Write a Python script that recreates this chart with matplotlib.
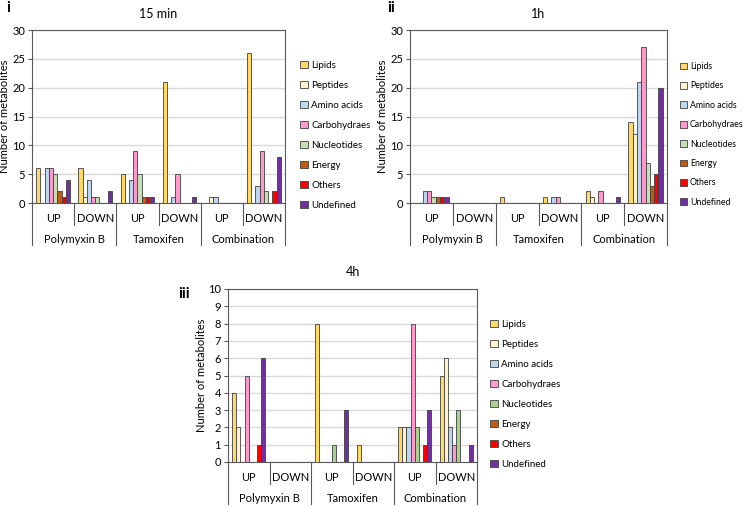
import matplotlib
matplotlib.use("Agg")
import matplotlib.pyplot as plt
from matplotlib.patches import Patch
import numpy as np

plt.rcParams['font.family'] = ['Lato', 'DejaVu Sans']

classes = ["Lipids", "Peptides", "Amino acids", "Carbohydraes", "Nucleotides",
           "Energy", "Others", "Undefined"]
colors = ["#FFD966", "#FFF2CC", "#BDD7EE", "#FF99CC", "#C5E0B4",
          "#C55A11", "#FF0000", "#7030A0"]
colors_4h = ["#FFD966", "#FFF2CC", "#BDD7EE", "#FF99CC", "#A9D18E",
             "#C55A11", "#FF0000", "#7030A0"]
treatments = ["Polymyxin B", "Tamoxifen", "Combination"]
directions = ["UP", "DOWN"]

# rows: PolyB UP, PolyB DOWN, Tam UP, Tam DOWN, Comb UP, Comb DOWN
# columns: classes order
vals_15min = [
    [6, 0, 6, 6, 5, 2, 1, 4],
    [6, 1, 4, 1, 1, 0, 0, 2],
    [5, 0, 4, 9, 5, 1, 1, 1],
    [21, 0, 1, 5, 0, 0, 0, 1],
    [0, 1, 1, 0, 0, 0, 0, 0],
    [26, 0, 3, 9, 2, 0, 2, 8],
]
vals_1h = [
    [0, 0, 2, 2, 1, 1, 1, 1],
    [0, 0, 0, 0, 0, 0, 0, 0],
    [1, 0, 0, 0, 0, 0, 0, 0],
    [1, 0, 1, 1, 0, 0, 0, 0],
    [2, 1, 0, 2, 0, 0, 0, 1],
    [14, 12, 21, 27, 7, 3, 5, 20],
]
vals_4h = [
    [4, 2, 0, 5, 0, 0, 1, 6],
    [0, 0, 0, 0, 0, 0, 0, 0],
    [8, 0, 0, 0, 1, 0, 0, 3],
    [1, 0, 0, 0, 0, 0, 0, 0],
    [2, 2, 2, 8, 2, 0, 1, 3],
    [5, 6, 2, 1, 3, 0, 0, 1],
]

W, H = 745, 507
fig = plt.figure(figsize=(W / 100, H / 100), dpi=100)


def px_axes(l, t, r, b):
    return fig.add_axes([l / W, (H - b) / H, (r - l) / W, (b - t) / H])


def draw_panel(ax, data, cols, title, ymax, ystep, label, label_xy, ylab_x,
               legend_xy, legend_fs, ls):
    data = np.array(data, dtype=float)
    n = len(classes)
    bw = 0.1
    x0 = np.arange(data.shape[0])
    for j in range(n):
        ax.bar(x0 - (n - 1) / 2 * bw + j * bw, data[:, j], width=bw,
               color=cols[j], edgecolor="#404040", linewidth=0.6,
               label=classes[j], zorder=3)
    ax.set_xlim(-0.5, data.shape[0] - 0.5)
    ax.set_ylim(0, ymax)
    ax.set_yticks(np.arange(0, ymax + 0.01, ystep))
    ax.yaxis.grid(True, color="#D9D9D9", linewidth=1.0, zorder=0)
    ax.set_axisbelow(True)
    ax.set_xticks([])
    for s in ax.spines.values():
        s.set_color("#595959")
        s.set_linewidth(0.8)
    ax.tick_params(axis="y", labelsize=8, length=3, color="#595959", pad=2)
    ax.set_title(title, fontsize=9, pad=9)
    ax.set_ylabel("Number of metabolites", fontsize=8)
    ax.yaxis.set_label_coords(ylab_x, 0.5)
    # multi-level category labels
    trans = ax.get_xaxis_transform()
    for i in range(data.shape[0]):
        ax.text(i, -0.09, directions[i % 2], transform=trans, ha="center",
                va="center", fontsize=8)
    for k, t in enumerate(treatments):
        ax.text(2 * k + 0.5, -0.21, t, transform=trans, ha="center",
                va="center", fontsize=8)
    for k in range(len(treatments) + 1):
        xb = 2 * k - 0.5
        ax.plot([xb, xb], [0, -0.245], transform=trans, color="#595959",
                linewidth=0.8, clip_on=False)
    for k in range(len(treatments)):
        xb = 2 * k + 0.5
        ax.plot([xb, xb], [0, -0.13], transform=trans, color="#595959",
                linewidth=0.8, clip_on=False)
    fig.text(label_xy[0] / W, 1 - label_xy[1] / H, label, fontsize=11,
             fontweight="bold", ha="left", va="center")
    handles = [Patch(facecolor=c, edgecolor="#404040", linewidth=0.6)
               for c in cols]
    fig.legend(handles, classes, loc="upper left",
               bbox_to_anchor=(legend_xy[0] / W, 1 - legend_xy[1] / H),
               frameon=False, fontsize=legend_fs, handlelength=0.8,
               handleheight=0.8, handletextpad=0.35, labelspacing=ls,
               borderaxespad=0, borderpad=0)


ax1 = px_axes(32, 30, 285, 203)
draw_panel(ax1, vals_15min, colors, "15 min", 30, 5, "i", (6, 8), -0.085,
           (300, 61), 7, 1.12)
ax2 = px_axes(410, 30, 667, 203)
draw_panel(ax2, vals_1h, colors, "1h", 30, 5, "ii", (387, 8), -0.085,
           (680, 62), 6.3, 1.19)
ax3 = px_axes(228, 289, 477, 462)
draw_panel(ax3, vals_4h, colors_4h, "4h", 10, 1, "iii", (178, 294), -0.085,
           (490, 320), 7, 1.12)

fig.savefig("out.png", dpi=100)
